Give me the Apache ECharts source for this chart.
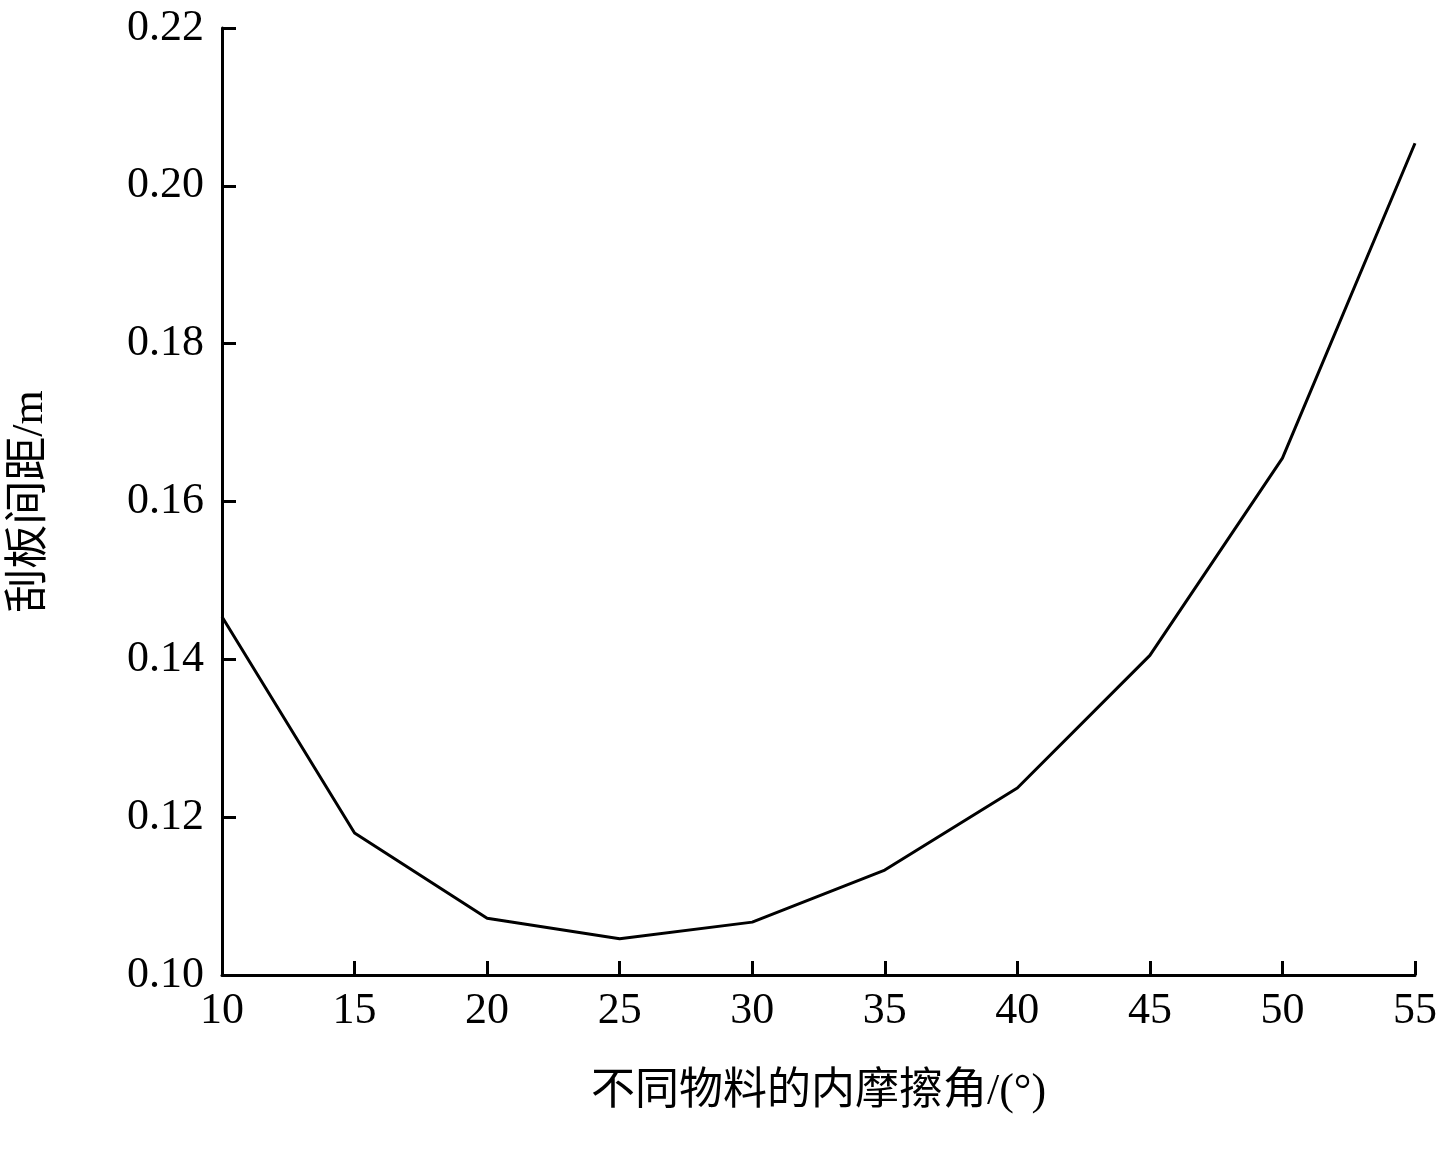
<!DOCTYPE html>
<html><head><meta charset="utf-8">
<script src="https://cdn.jsdelivr.net/npm/echarts@6/dist/echarts.min.js"></script>
<style>html,body{margin:0;padding:0;background:#fff}#c{width:1448px;height:1154px}</style>
</head><body><div id="c"></div>
<script>
const xValues = [10, 15, 20, 25, 30, 35, 40, 45, 50, 55];
const yValues = [0.1454, 0.1180, 0.1072, 0.1046, 0.1067, 0.1133, 0.1237, 0.1405, 0.1655, 0.2054];
const xTitle = '不同物料的内摩擦角/(°)';
const yTitle = '刮板间距/m';
const font = '"Liberation Serif","Noto Sans CJK SC",serif';
const chart = echarts.init(document.getElementById('c'));
chart.setOption({
  animation: false,
  grid: {left: 210, right: 33, top: 28, bottom: 179},
  xAxis: {
    type: 'value', min: 10, max: 55, interval: 5,
    name: xTitle, nameLocation: 'middle', nameGap: 95,
    nameTextStyle: {fontFamily: font, fontSize: 44, color: '#000'},
    axisLine: {lineStyle: {color: '#000', width: 3}},
    axisTick: {inside: true, length: 14, lineStyle: {color: '#000', width: 3}},
    axisLabel: {fontFamily: font, fontSize: 44, color: '#000', margin: 14},
    splitLine: {show: false}
  },
  yAxis: {
    type: 'value', min: 0.10, max: 0.22, interval: 0.02,
    name: yTitle, nameLocation: 'middle', nameGap: 170,
    nameTextStyle: {fontFamily: font, fontSize: 44, color: '#000'},
    axisLine: {show: true, lineStyle: {color: '#000', width: 3}},
    axisTick: {show: true, inside: true, length: 14, lineStyle: {color: '#000', width: 3}},
    axisLabel: {fontFamily: font, fontSize: 44, color: '#000', margin: 18,
      formatter: v => v.toFixed(2)},
    splitLine: {show: false}
  },
  series: [{
    type: 'line', data: xValues.map((x, i) => [x, yValues[i]]),
    symbol: 'none', lineStyle: {color: '#000', width: 3}
  }]
});
</script></body></html>
